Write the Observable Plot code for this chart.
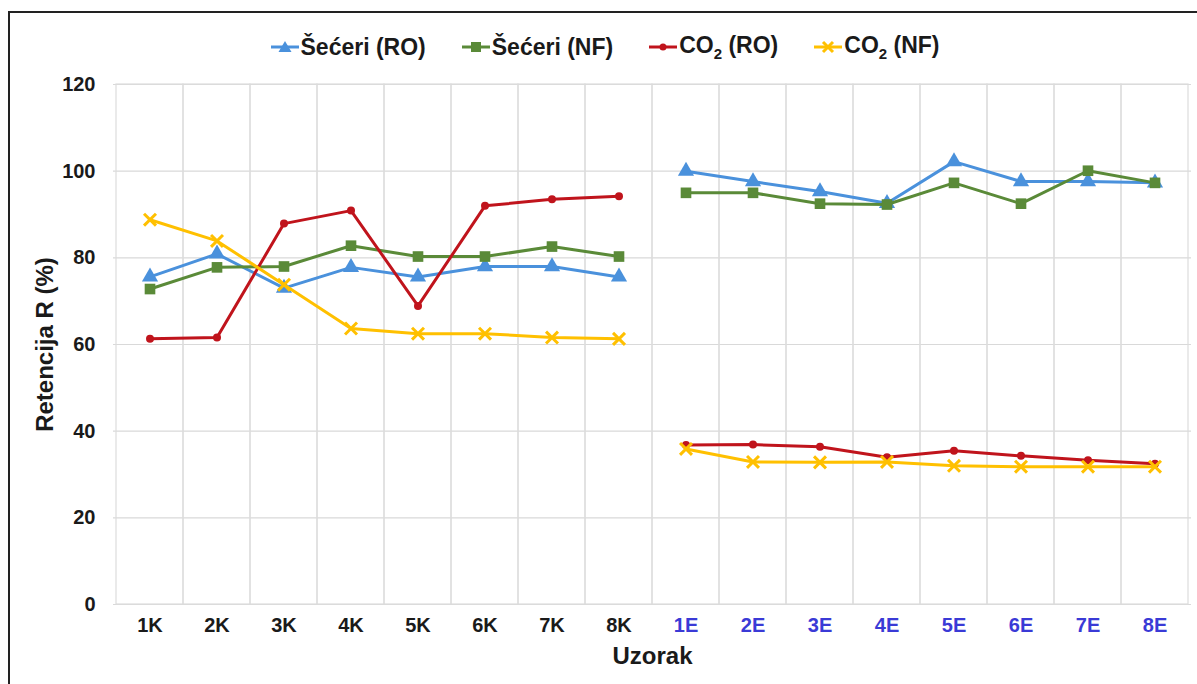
<!DOCTYPE html>
<html>
<head>
<meta charset="utf-8">
<script src="https://cdn.jsdelivr.net/npm/d3@7"></script>
<script src="https://cdn.jsdelivr.net/npm/@observablehq/plot@0.6"></script>
<style>
  html, body { margin: 0; padding: 0; background: #fff; }
  body { width: 1197px; height: 684px; position: relative; overflow: hidden; font-family: "Liberation Sans", Arial, sans-serif; }
  #frame { position: absolute; left: 8px; top: 11px; right: -5px; bottom: -5px; border-left: 2px solid #222; border-top: 2px solid #222; pointer-events: none; }
  #legend { height: 70px; display: flex; justify-content: center; align-items: center; gap: 35px; padding-top: 24px; box-sizing: border-box; padding-left: 12px; }
  .item { display: flex; align-items: center; font-weight: bold; font-size: 23px; color: #1a1a1a; }
  .item svg { margin-right: 1px; }
  .item sub { font-size: 15px; }
</style>
</head>
<body>
<div id="frame"></div>
<div id="legend"></div>
<div id="chart"></div>
<script>
const categories = ["1K","2K","3K","4K","5K","6K","7K","8K","1E","2E","3E","4E","5E","6E","7E","8E"];
const seceriRO = [75.6, 80.9, 73.0, 77.8, 75.6, 78.0, 78.0, 75.6, 100.0, 97.6, 95.3, 92.6, 102.2, 97.6, 97.6, 97.3];
const seceriNF = [72.8, 77.8, 78.0, 82.8, 80.3, 80.3, 82.6, 80.3, 95.0, 95.0, 92.5, 92.3, 97.3, 92.5, 100.1, 97.3];
const co2RO   = [61.3, 61.6, 87.9, 90.9, 68.9, 92.0, 93.5, 94.2, 36.8, 36.9, 36.4, 34.0, 35.5, 34.3, 33.3, 32.5];
const co2NF   = [88.8, 83.9, 73.8, 63.7, 62.5, 62.5, 61.6, 61.3, 35.9, 32.9, 32.8, 32.9, 32.0, 31.8, 31.8, 31.8];
const seriesNames = ["Šećeri (RO)", "Šećeri (NF)", "CO<sub>2</sub> (RO)", "CO<sub>2</sub> (NF)"];
const seriesColors = ["#4a91dc", "#5a8a38", "#c0141c", "#ffc000"];
const yTicks = [0, 20, 40, 60, 80, 100, 120];

const seriesValues = [seceriRO, seceriNF, co2RO, co2NF];
const symbols = ["triangle", "square", "circle", "times"];
const rows = seriesValues.map(vals => categories.map((c, i) => ({
  cat: c, value: vals[i], group: c.endsWith("K") ? "K" : "E"
})));

// legend
const legend = document.getElementById("legend");
const legendIcon = (i) => {
  const col = seriesColors[i];
  let marker;
  if (i === 0) marker = `<path d="M15,4 L21.5,15 L8.5,15 Z" fill="${col}"/>`;
  else if (i === 1) marker = `<rect x="10" y="5" width="10" height="10" fill="${col}"/>`;
  else if (i === 2) marker = `<circle cx="15" cy="10" r="3.5" fill="${col}"/>`;
  else marker = `<path d="M10,5 L20,15 M20,5 L10,15" stroke="${col}" stroke-width="3"/>`;
  return `<svg width="30" height="20"><line x1="1" y1="10" x2="29" y2="10" stroke="${col}" stroke-width="3"/>${marker}</svg>`;
};
seriesNames.forEach((n, i) => {
  const d = document.createElement("div");
  d.className = "item";
  d.innerHTML = legendIcon(i) + `<span>${n}</span>`;
  legend.appendChild(d);
});

const W = 1197, H = 614, ML = 113, MR = 6, MT = 14, MB = 80;
const kCats = categories.filter(c => c.endsWith("K"));
const eCats = categories.filter(c => c.endsWith("E"));

const marks = [
  Plot.ruleY(yTicks, {stroke: "#d9d9d9", strokeWidth: 1.2}),
  Plot.cell(categories, {x: d => d, fill: "none", stroke: "#dcdcdc", strokeWidth: 1.2}),
  Plot.axisY({ticks: yTicks, tickSize: 0, tickPadding: 18, fontSize: 20, fontWeight: "bold", fill: "#1a1a1a", label: null}),
  Plot.text(kCats, {x: d => d, frameAnchor: "bottom", dy: 27, fill: "#1a1a1a", fontSize: 20, fontWeight: "bold"}),
  Plot.text(eCats, {x: d => d, frameAnchor: "bottom", dy: 27, fill: "#3a3ad6", fontSize: 20, fontWeight: "bold"}),
  Plot.text(["Uzorak"], {frameAnchor: "bottom", dy: 59, fill: "#1a1a1a", fontSize: 24, fontWeight: "bold"}),
  Plot.text(["Retencija R (%)"], {frameAnchor: "left", textAnchor: "middle", dx: -68, rotate: -90, fill: "#1a1a1a", fontSize: 24, fontWeight: "bold"})
];
rows.forEach((data, i) => {
  marks.push(Plot.line(data, {x: "cat", y: "value", z: "group", stroke: seriesColors[i], strokeWidth: 3}));
  if (symbols[i] === "times") {
    marks.push(Plot.dot(data, {x: "cat", y: "value", symbol: "times", r: 5.5, stroke: seriesColors[i], strokeWidth: 3}));
  } else {
    marks.push(Plot.dot(data, {x: "cat", y: "value", symbol: symbols[i], r: symbols[i] === "circle" ? 4 : 6, fill: seriesColors[i], stroke: "none"}));
  }
});

const chart = Plot.plot({
  width: W, height: H,
  marginLeft: ML, marginRight: MR, marginTop: MT, marginBottom: MB,
  style: {fontFamily: "'Liberation Sans', Arial, sans-serif", background: "transparent"},
  x: {type: "band", domain: categories, padding: 0, axis: null},
  y: {domain: [0, 120], axis: null},
  marks
});
document.getElementById("chart").appendChild(chart);
</script>
</body>
</html>
